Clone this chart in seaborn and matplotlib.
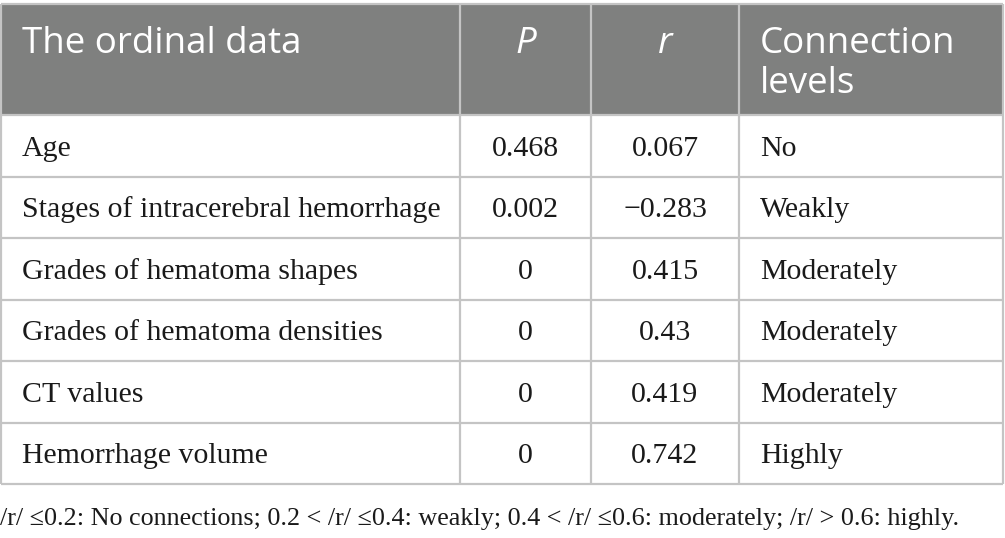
import numpy as np
import pandas as pd
import matplotlib.pyplot as plt
import seaborn as sns
from matplotlib.patches import Rectangle

# Datos de la tabla
variables = ['Age', 'Stages of intracerebral hemorrhage', 'Grades of hematoma shapes',
             'Grades of hematoma densities', 'CT values', 'Hemorrhage volume']
p_values = ['0.468', '0.002', '0', '0', '0', '0']
r_values = ['0.067', '\u22120.283', '0.415', '0.43', '0.419', '0.742']
levels = ['No', 'Weakly', 'Moderately', 'Moderately', 'Moderately', 'Highly']
headers = ['The ordinal data', 'P', 'r', 'Connection', 'levels']
footnote = ('/r/ \u22640.2: No connections; 0.2 < /r/ \u22640.4: weakly; '
            '0.4 < /r/ \u22640.6: moderately; /r/ > 0.6: highly.')


def main():
    sns.set_theme(style="white")
    plt.rcParams['font.family'] = ['Liberation Serif', 'DejaVu Serif']

    df = pd.DataFrame({'var': variables, 'P': p_values, 'r': r_values, 'lvl': levels})

    fig = plt.figure(figsize=(10.05, 5.38), dpi=100)
    ax = fig.add_axes([0, 0, 1, 1])
    ax.set_xlim(0, 1005)
    ax.set_ylim(538, 0)
    ax.axis('off')

    # Geometría de la tabla (en píxeles)
    col_edges = [1, 460, 591, 739, 1003]
    top, head_bottom = 4, 115
    row_h = 61.5
    row_edges = [head_bottom + i * row_h for i in range(len(df) + 1)]
    line_col = '#c4c4c4'
    head_col = '#7f807f'

    ax.add_patch(Rectangle((col_edges[0], top), col_edges[-1] - col_edges[0],
                           head_bottom - top, color=head_col, lw=0, zorder=1))

    # Líneas de la cuadrícula
    ax.hlines([top] + row_edges, col_edges[0], col_edges[-1], color=line_col, lw=1.6, zorder=2)
    ax.vlines(col_edges, top, row_edges[-1], color=line_col, lw=1.6, zorder=2)

    # Encabezados
    hfont = dict(family='Open Sans', color='white', fontsize=26.5, va='baseline')
    ax.text(22, 53, headers[0], ha='left', **hfont)
    ax.text((col_edges[1] + col_edges[2]) / 2, 53, headers[1], ha='center', style='italic', **hfont)
    ax.text((col_edges[2] + col_edges[3]) / 2, 53, headers[2], ha='center', style='italic', **hfont)
    ax.text(760, 53, headers[3], ha='left', **hfont)
    ax.text(760, 93, headers[4], ha='left', **hfont)

    # Filas
    bfont = dict(color='#1a1a1a', fontsize=21.5, va='baseline')
    for i, row in df.iterrows():
        yb = (row_edges[i] + row_edges[i + 1]) / 2 + 10
        ax.text(22, yb, row['var'], ha='left', **bfont)
        ax.text((col_edges[1] + col_edges[2]) / 2, yb, row['P'], ha='center', **bfont)
        ax.text((col_edges[2] + col_edges[3]) / 2, yb, row['r'], ha='center', **bfont)
        ax.text(760, yb, row['lvl'], ha='left', **bfont)

    ax.text(0, 525, footnote, ha='left', va='baseline', color='#1a1a1a', fontsize=18.8)

    fig.savefig('out.png', dpi=100)
    plt.close(fig)


if __name__ == "__main__":
    main()
